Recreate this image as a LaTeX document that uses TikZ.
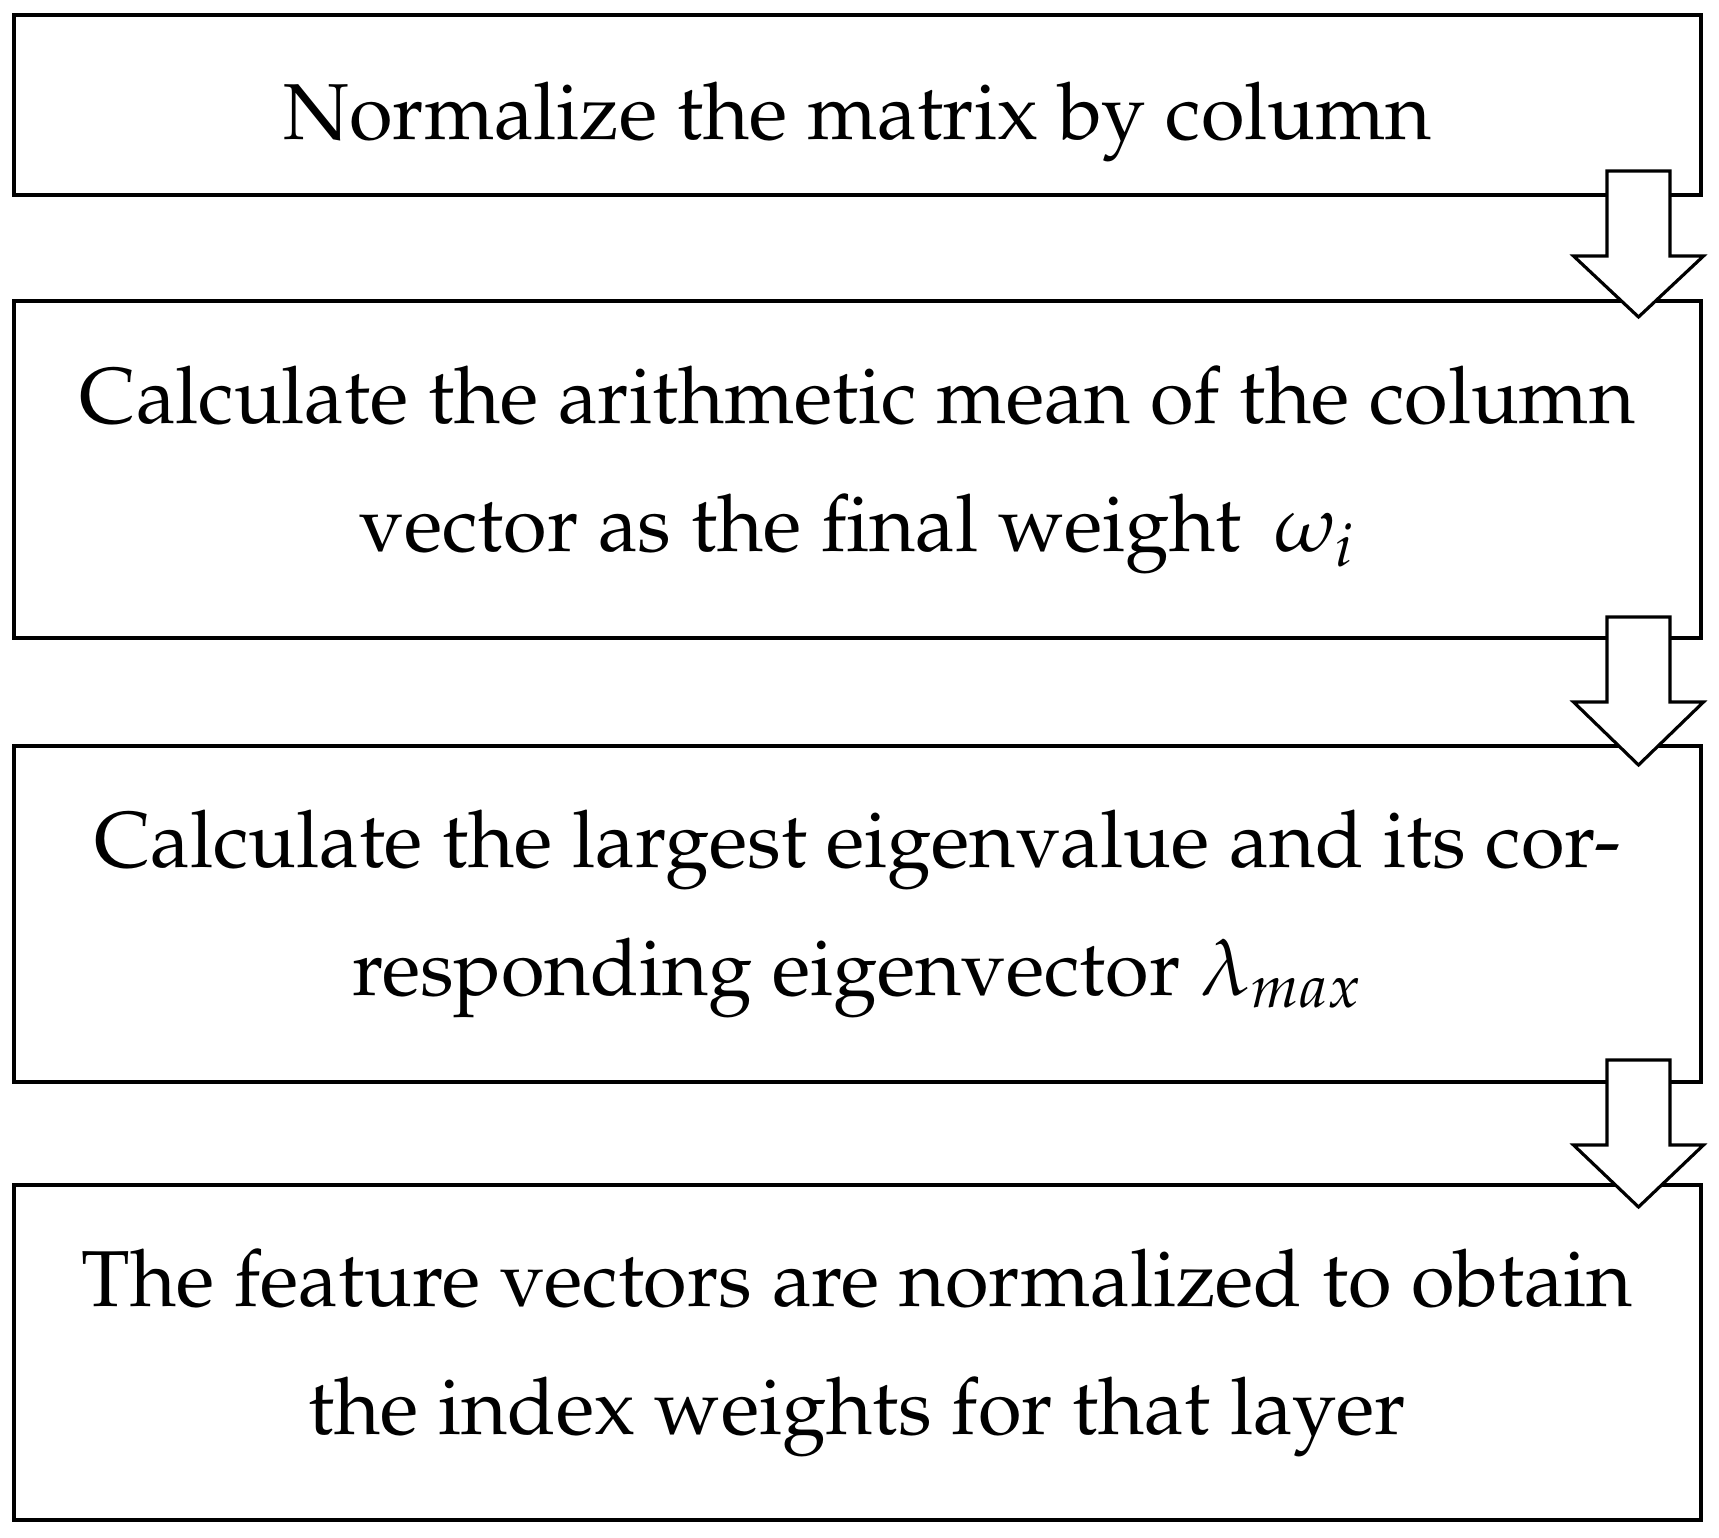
\documentclass[tikz,border=0pt]{standalone}
\usepackage[T1]{fontenc}
\usepackage{mathpazo}
\begin{document}
\begin{tikzpicture}[x=0.3pt,y=-0.3pt]
\tikzset{
  box/.style={draw, line width=1.05pt, inner sep=0pt, minimum width=506.1pt, align=center,
    font=\fontsize{23.8}{38.4}\selectfont},
  blockarrow/.style={draw, fill=white, line width=0.95pt, miter limit=10}
}
\useasboundingbox (0,0) rectangle (1719,1538);
\node[box, minimum height=54pt, text height=21pt, text depth=0pt] (b1) at (857.5,105) {Normalize the matrix by column};
\node[box, minimum height=101.1pt] (b2) at (857.5,469.5) {Calculate the arithmetic mean of the column\\vector as the final weight~\,$\omega_i$};
\node[box, minimum height=100.8pt] (b3) at (857.5,914) {Calculate the largest eigenvalue and its cor-\\responding eigenvector $\lambda_{max}$};
\node[box, minimum height=100.5pt] (b4) at (857.5,1352.5) {The feature vectors are normalized to obtain\\the index weights for that layer};
\foreach \t/\s/\p/\n in {171/256/317/a1, 617/702/765/a2, 1060/1145/1207/a3}{
  \draw[blockarrow] (1607,\t) coordinate (\n) -- (1670,\t) -- (1670,\s) -- (1703.5,\s) -- (1638.5,\p) -- (1573.5,\s) -- (1607,\s) -- cycle;
}
\end{tikzpicture}
\end{document}
